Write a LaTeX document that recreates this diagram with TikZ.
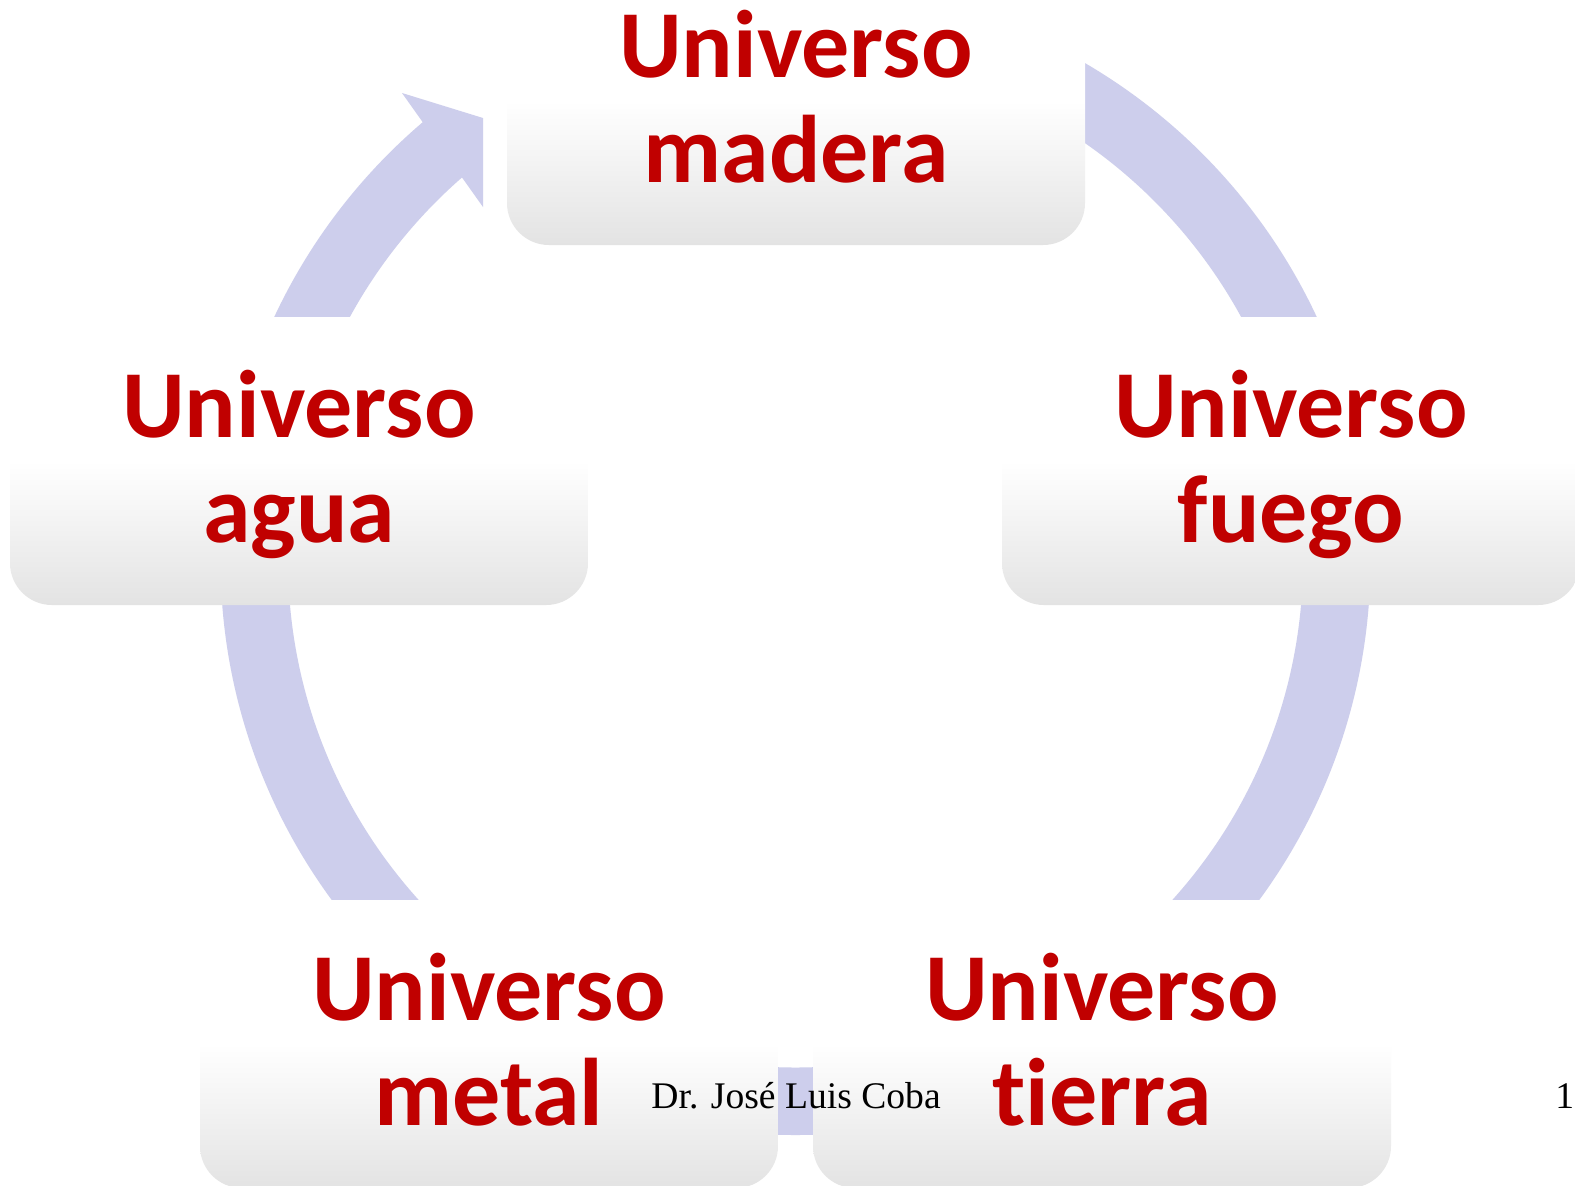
\documentclass[tikz,border=0pt]{standalone}
\usepackage{fontspec}
\newfontfamily\carl{Carlito}[Ligatures={NoCommon,NoRequired,NoContextual}]
\newfontfamily\lserif{Liberation Serif}
\definecolor{lav}{RGB}{205,206,236}
\definecolor{elred}{HTML}{C00000}
\definecolor{boxgray}{HTML}{E3E3E3}
\pgfdeclareverticalshading{boxshade}{100bp}{color(0bp)=(boxgray); color(25bp)=(boxgray); color(50bp)=(white); color(100bp)=(white)}
\tikzset{
  elbox/.style={rectangle, rounded corners=21pt, inner sep=0pt,
    minimum width=289pt, minimum height=144pt,
    shading=boxshade, draw=none},
  eltext/.style={anchor=base, inner sep=0pt, text=elred,
    font=\carl\bfseries\fontsize{48}{52.5}\selectfont},
  foot/.style={anchor=base west, inner sep=0pt, text=black,
    font=\lserif\fontsize{18.8}{22}\selectfont}
}
\begin{document}
\begin{tikzpicture}[x=0.5pt,y=-0.5pt]
\useasboundingbox (0,0) rectangle (1575,1185);
\clip (0,0) rectangle (1575,1185);
\fill[white] (0,0) rectangle (1575,1185);
% cycle band
\coordinate (c) at (795.5,560);
\fill[lav, even odd rule] (c) circle[radius=287.5pt] (c) circle[radius=253.75pt];
% cut band between arrowhead and madera
\fill[white] (361.5,32.8) -- (361.5,-60) -- (600,-60) -- (600,260) -- (511.5,243.8) -- cycle;
% arrowhead
\fill[lav] (402,93) -- (483,118) -- (483,207) -- cycle;
% boxes
\node[elbox] (madera) at (796,101) {};
\node[elbox] (agua)   at (299,461) {};
\node[elbox] (fuego)  at (1291,461) {};
\node[elbox] (metal)  at (489,1044) {};
\node[elbox] (tierra) at (1102,1044) {};
% texts
\node[eltext] (madera1) at (796,77) {Universo};
\node[eltext] (madera2) at (796,182) {madera};
\node[eltext] (agua1) at (299,437) {Universo};
\node[eltext] (agua2) at (299,542) {agua};
\node[eltext] (fuego1) at (1291,437) {Universo};
\node[eltext] (fuego2) at (1291,542) {fuego};
\node[eltext] (metal1) at (489,1020) {Universo};
\node[eltext] (metal2) at (489,1125) {metal};
\node[eltext] (tierra1) at (1102,1020) {Universo};
\node[eltext] (tierra2) at (1102,1125) {tierra};
% footer
\node[foot] (autor) at (651,1108) {Dr. José Luis Coba};
\node[foot] (pagina) at (1555,1108) {15};
\end{tikzpicture}
\end{document}
